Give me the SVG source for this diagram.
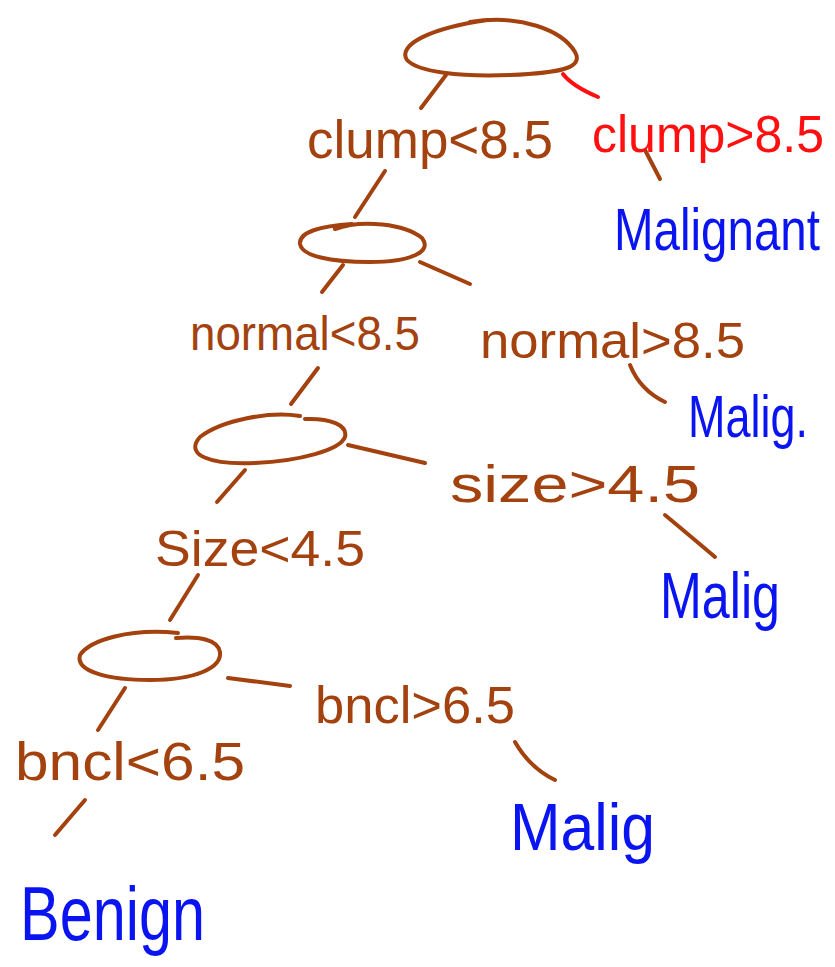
<svg xmlns="http://www.w3.org/2000/svg" width="835" height="967" viewBox="0 0 835 967">
  <style>
    .ink { fill: none; stroke-width: 4; stroke-linecap: round; stroke-linejoin: round; }
    .brown { stroke: #A3420F; }
    .red { stroke: #FF1010; }
    .lbl { font-family: "Liberation Sans", "DejaVu Sans", sans-serif; }
    .t-brown { fill: #A3420F; }
    .t-red { fill: #FF1010; }
    .t-blue { fill: #0A14F0; }
  </style>
  <rect width="835" height="967" fill="#ffffff"/>

  <!-- split nodes (hand-drawn ovals) -->
  <g id="node-root">
    <path class="ink brown" d="M470,22 C520,14 562,30 575,52 C584,68 560,73 510,75 C460,77 418,72 407,60 C397,45 430,28 488,20"/>
  </g>
  <g id="node-normal">
    <path class="ink brown" d="M335,229 C362,219 405,224 422,238 C433,252 410,262 370,262 C330,262 302,256 300,244 C299,232 320,226 352,224"/>
  </g>
  <g id="node-size">
    <path class="ink brown" d="M300,416 C270,411 222,420 200,437 C184,455 210,465 255,463 C300,461 340,450 345,437 C348,425 330,418 305,419"/>
  </g>
  <g id="node-bncl">
    <path class="ink brown" d="M178,633 C130,628 90,640 80,655 C75,672 110,680 150,680 C195,680 222,668 220,652 C218,640 200,636 176,638"/>
  </g>

  <!-- connectors -->
  <g id="connectors">
    <path class="ink brown" d="M446,75 L421,108"/>
    <path class="ink red" d="M563,74 Q572,86 598,97"/>
    <path class="ink brown" d="M645,150 L660,179"/>
    <path class="ink brown" d="M385,171 L355,217"/>
    <path class="ink brown" d="M343,265 L322,292"/>
    <path class="ink brown" d="M420,262 L470,284"/>
    <path class="ink brown" d="M318,368 L291,404"/>
    <path class="ink brown" d="M630,365 Q640,390 665,402"/>
    <path class="ink brown" d="M348,445 L425,463"/>
    <path class="ink brown" d="M245,470 L217,502"/>
    <path class="ink brown" d="M665,515 Q695,540 715,557"/>
    <path class="ink brown" d="M198,575 L170,620"/>
    <path class="ink brown" d="M228,678 L290,686"/>
    <path class="ink brown" d="M125,688 L98,730"/>
    <path class="ink brown" d="M515,742 Q530,768 555,780"/>
    <path class="ink brown" d="M85,800 L55,835"/>
  </g>

  <!-- branch conditions -->
  <g id="label-clump-lt"><text class="lbl t-brown" x="307" y="158" font-size="54" textLength="246" lengthAdjust="spacingAndGlyphs">clump&lt;8.5</text></g>
  <g id="label-clump-gt"><text class="lbl t-red" x="592" y="152" font-size="52" textLength="232" lengthAdjust="spacingAndGlyphs">clump&gt;8.5</text></g>
  <g id="label-normal-lt"><text class="lbl t-brown" x="190" y="350" font-size="48" textLength="230" lengthAdjust="spacingAndGlyphs">normal&lt;8.5</text></g>
  <g id="label-normal-gt"><text class="lbl t-brown" x="480" y="358" font-size="50" textLength="265" lengthAdjust="spacingAndGlyphs">normal&gt;8.5</text></g>
  <g id="label-size-gt"><text class="lbl t-brown" x="450" y="502" font-size="52" textLength="250" lengthAdjust="spacingAndGlyphs">size&gt;4.5</text></g>
  <g id="label-size-lt"><text class="lbl t-brown" x="155" y="566" font-size="50" textLength="210" lengthAdjust="spacingAndGlyphs">Size&lt;4.5</text></g>
  <g id="label-bncl-gt"><text class="lbl t-brown" x="315" y="723" font-size="52" textLength="200" lengthAdjust="spacingAndGlyphs">bncl&gt;6.5</text></g>
  <g id="label-bncl-lt"><text class="lbl t-brown" x="15" y="780" font-size="54" textLength="230" lengthAdjust="spacingAndGlyphs">bncl&lt;6.5</text></g>

  <!-- leaves (the two near the right edge are set smaller and stretched upward) -->
  <g id="leaf-malignant"><text class="lbl t-blue" transform="translate(614,250) scale(1,1.2)" font-size="50" textLength="206" lengthAdjust="spacingAndGlyphs">Malignant</text></g>
  <g id="leaf-malig-1"><text class="lbl t-blue" transform="translate(688,437) scale(1,1.15)" font-size="52" textLength="120" lengthAdjust="spacingAndGlyphs">Malig.</text></g>
  <g id="leaf-malig-2"><text class="lbl t-blue" x="660" y="618" font-size="64" textLength="120" lengthAdjust="spacingAndGlyphs">Malig</text></g>
  <g id="leaf-malig-3"><text class="lbl t-blue" x="510" y="850" font-size="66" textLength="145" lengthAdjust="spacingAndGlyphs">Malig</text></g>
  <g id="leaf-benign"><text class="lbl t-blue" x="20" y="940" font-size="76" textLength="185" lengthAdjust="spacingAndGlyphs">Benign</text></g>
</svg>
